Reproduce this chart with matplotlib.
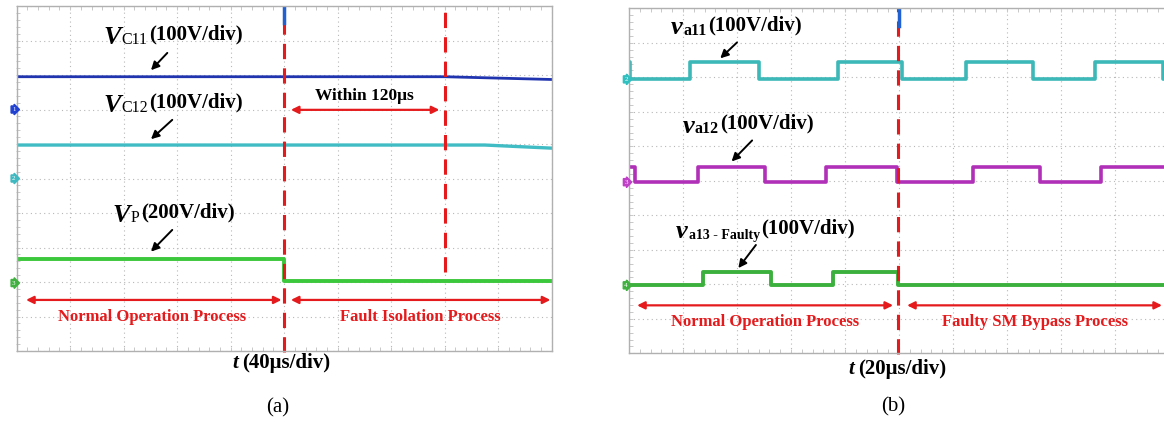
import numpy as np
import matplotlib
matplotlib.use("Agg")
import matplotlib.pyplot as plt

plt.rcParams['font.family'] = ['Liberation Serif', 'DejaVu Serif']

# ---- data (time in us, level in screen divisions from the bottom) ----
# panel (a): 40us/div, 10 div
a_t_vc11 = [0, 320, 400]
a_vc11 = [7.95, 7.95, 7.87]
a_t_vc12 = [0, 350, 400]
a_vc12 = [5.97, 5.97, 5.88]
a_t_vp = [0, 200, 200, 400]
a_vp = [2.66, 2.66, 2.03, 2.03]
a_fault_t = 200
a_isol_t = 320
a_ground = [7.0, 5.0, 1.97]          # channel markers 1, 2, 3

# panel (b): 20us/div, 10 div
b_va11_edges = [0.4, 22.6, 48.1, 77.4, 101.1, 124.8, 149.6, 172.6, 197.8]
b_va11_lv = (7.96, 8.43)             # low, high
b_va11_start_high = True
b_va12_edges = [2.2, 25.6, 50.4, 73.0, 99.3, 127.4, 152.2, 174.8]
b_va12_lv = (4.96, 5.39)
b_va12_start_high = True
b_va13_edges = [27.4, 52.6, 75.6, 99.6]
b_va13_lv = (1.97, 2.36)
b_va13_start_high = False
b_fault_t = 99.6
b_ground = [7.94, 4.96, 1.97]        # channel markers 2, 3, 4

RED = '#e41a1c'
W, H = 1164, 422


def square_wave(edges, levels, start_high, t_end):
    xs, ys = [0.0], []
    high = start_high
    ys.append(levels[1] if high else levels[0])
    for e in edges:
        xs += [e, e]
        ys += [ys[-1]]
        high = not high
        ys += [levels[1] if high else levels[0]]
    xs.append(t_end)
    ys.append(ys[-1])
    return xs, ys


def scope_axes(fig, left, top, width, height, tmax):
    ax = fig.add_axes([left / W, 1 - (top + height) / H, width / W, height / H])
    ax.set_xlim(0, tmax)
    ax.set_ylim(0, 10)
    ax.set_xticks(np.linspace(0, tmax, 11))
    ax.set_yticks(np.arange(0, 11))
    ax.grid(True, ls=(0, (1, 3)), color='#b8b8b8', lw=0.8)
    ax.tick_params(which='both', length=0, labelbottom=False, labelleft=False)
    for s in ax.spines.values():
        s.set_color('#b0b0b0')
        s.set_linewidth(1.0)
    # small minor ticks on the frame
    mt = np.linspace(0, tmax, 51)
    ax.plot(mt, np.full_like(mt, 0.06), '|', color='#c8c8c8', ms=2.5, mew=0.7, clip_on=False)
    ax.plot(mt, np.full_like(mt, 9.94), '|', color='#c8c8c8', ms=2.5, mew=0.7, clip_on=False)
    my = np.linspace(0, 10, 51)
    ax.plot(np.full_like(my, tmax * 0.003), my, '_', color='#c8c8c8', ms=2.5, mew=0.7,
            clip_on=False)
    return ax


def label(ax, x, y, main, sub, rest, main_size=19, sub_size=11.5, rest_size=15,
          sub_bold=False):
    t1 = ax.text(x, y, main, fontsize=main_size, fontweight='bold',
                 fontstyle='italic', va='bottom', ha='left')
    t2 = ax.annotate(sub, xy=(1, 0), xycoords=t1, xytext=(0.5, 0.5), textcoords='offset points',
                     fontsize=sub_size, fontweight='bold' if sub_bold else 'normal',
                     va='bottom', ha='left')
    ax.annotate(rest, xy=(1, 0), xycoords=t2, xytext=(1, 2.5), textcoords='offset points',
                fontsize=rest_size, fontweight='bold', va='bottom', ha='left')


def time_label(fig, xc, yc, rest):
    fig.text((xc - 52) / W, 1 - yc / H, 't', fontsize=15, fontweight='bold',
             fontstyle='italic', ha='left', va='center')
    fig.text((xc - 41.5) / W, 1 - yc / H, rest, fontsize=15, fontweight='bold',
             ha='left', va='center')


def black_arrow(ax, tail, head):
    ax.annotate('', xy=head, xytext=tail,
                arrowprops=dict(arrowstyle='-|>', color='black', lw=1.4, mutation_scale=12,
                                shrinkA=0, shrinkB=0))


def red_span(ax, x0, x1, y):
    ax.annotate('', xy=(x1, y), xytext=(x0, y),
                arrowprops=dict(arrowstyle='<|-|>', color=RED, lw=1.6, mutation_scale=11,
                                shrinkA=0, shrinkB=0))


def ground_marker(ax, y, num, color, xoff):
    ax.text(xoff, y, num, fontsize=5, color='white', ha='right', va='center',
            transform=ax.get_yaxis_transform(), clip_on=False,
            bbox=dict(boxstyle='rarrow,pad=0.15', fc=color, ec=color))


fig = plt.figure(figsize=(W / 100, H / 100), dpi=100)
fig.patch.set_facecolor('white')

# ---------------- panel (a) ----------------
ax = scope_axes(fig, 16.7, 6, 535, 345, 400)
ax.plot(a_t_vc11, a_vc11, color='#2034b0', lw=2.0)
ax.plot(a_t_vc12, a_vc12, color='#40bcc4', lw=2.4)
ax.plot(a_t_vp, a_vp, color='#3cc83c', lw=2.8)
ax.plot([a_fault_t, a_fault_t], [-0.02, 10], color=RED, lw=2.2, ls=(0, (5, 3)), clip_on=False)
ax.plot([a_isol_t, a_isol_t], [2.3, 10], color=RED, lw=2.2, ls=(0, (5, 3)))
ax.plot([a_fault_t - 0.5, a_fault_t - 0.5], [9.5, 9.95], color='#2060d0', lw=2.5)

for g, n, c in zip(a_ground, ['1', '2', '3'], ['#2040d0', '#40b8c0', '#40b040']):
    ground_marker(ax, g, n, c, -0.002)

label(ax, 64.5, 8.75, 'V', 'C11', '(100V/div)')
label(ax, 64.5, 6.78, 'V', 'C12', '(100V/div)')
label(ax, 71.5, 3.6, 'V', 'P', '(200V/div)')
black_arrow(ax, (112.6, 8.64), (100.4, 8.14))
black_arrow(ax, (116.3, 6.70), (100.4, 6.14))
black_arrow(ax, (116.3, 3.51), (100.4, 2.88))

red_span(ax, 205, 316, 6.99)
ax.text(260, 7.38, 'Within 120\u03bcs', fontsize=12.5, fontweight='bold', ha='center', va='center')
red_span(ax, 7, 198, 1.48)
red_span(ax, 205, 399, 1.48)
ax.text(101, 0.99, 'Normal Operation Process', fontsize=12, fontweight='bold', color=RED,
        ha='center', va='center')
ax.text(302, 0.99, 'Fault Isolation Process', fontsize=12, fontweight='bold', color=RED,
        ha='center', va='center')
time_label(fig, 284, 363, '(40\u03bcs/div)')
fig.text(278 / W, 1 - 408 / H, '(a)', fontsize=15, ha='center', va='center')

# ---------------- panel (b) ----------------
bx = scope_axes(fig, 629, 8.3, 540, 345, 200)
x, y = square_wave(b_va11_edges, b_va11_lv, b_va11_start_high, 200)
bx.plot(x, y, color='#3cb8b8', lw=2.6)
x, y = square_wave(b_va12_edges, b_va12_lv, b_va12_start_high, 200)
bx.plot(x, y, color='#b030b8', lw=2.6)
x, y = square_wave(b_va13_edges, b_va13_lv, b_va13_start_high, 200)
bx.plot(x, y, color='#3cb03c', lw=2.8)
bx.plot([b_fault_t, b_fault_t], [-0.02, 10], color=RED, lw=2.2, ls=(0, (5, 3)), clip_on=False)
bx.plot([b_fault_t + 0.4, b_fault_t + 0.4], [9.5, 9.95], color='#2060d0', lw=2.5)

for g, n, c in zip(b_ground, ['2', '3', '4'], ['#30c0c0', '#c040c8', '#40b040']):
    ground_marker(bx, g, n, c, -0.002)

label(bx, 15.6, 9.1, 'v', 'a11', '(100V/div)', sub_bold=True)
label(bx, 19.8, 6.24, 'v', 'a12', '(100V/div)', sub_bold=True)
label(bx, 17.5, 3.2, 'v', 'a13 - Faulty', '(100V/div)', sub_size=10, sub_bold=True)
black_arrow(bx, (40.0, 9.01), (33.8, 8.55))
black_arrow(bx, (45.6, 6.17), (38.0, 5.56))
black_arrow(bx, (47.0, 3.14), (40.5, 2.47))

red_span(bx, 3.0, 97.8, 1.39)
red_span(bx, 103.0, 197.4, 1.39)
bx.text(50.4, 0.9, 'Normal Operation Process', fontsize=12, fontweight='bold', color=RED,
        ha='center', va='center')
bx.text(150.4, 0.9, 'Faulty SM Bypass Process', fontsize=12, fontweight='bold', color=RED,
        ha='center', va='center')
time_label(fig, 900, 369, '(20\u03bcs/div)')
fig.text(893 / W, 1 - 407 / H, '(b)', fontsize=15, ha='center', va='center')

fig.savefig('out.png', dpi=100, facecolor='white')
